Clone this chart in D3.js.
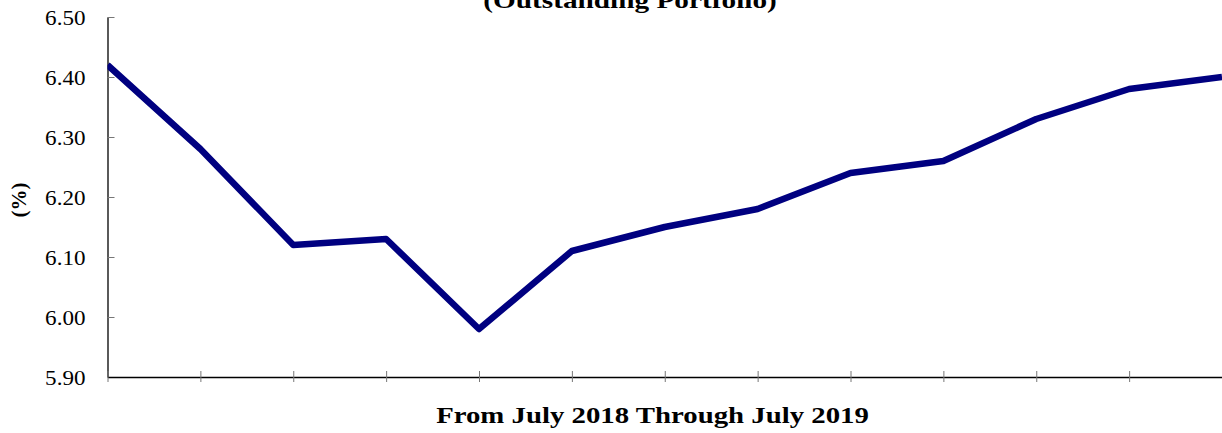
<!DOCTYPE html>
<html><head><meta charset="utf-8">
<script src="https://cdn.jsdelivr.net/npm/d3@7"></script>
<style>body{margin:0;background:#fff;}svg{display:block;}</style>
</head><body>
<svg id="c" width="1222" height="433"></svg>
<script>
const months = ["Jul 2018","Aug 2018","Sep 2018","Oct 2018","Nov 2018","Dec 2018","Jan 2019","Feb 2019","Mar 2019","Apr 2019","May 2019","Jun 2019","Jul 2019"];
const rates = [6.42, 6.28, 6.12, 6.13, 5.98, 6.11, 6.15, 6.18, 6.24, 6.26, 6.33, 6.38, 6.40];
const yTicks = [5.90, 6.00, 6.10, 6.20, 6.30, 6.40, 6.50];
const titleText = "(Outstanding Portfolio)";
const xTitle = "From July 2018 Through July 2019";
const yTitle = "(%)";

(function(){
const svg = d3.select("#c");
const mL = 107.5, mR = 1222, mT = 17, mB = 377;
const x = d3.scalePoint().domain(months).range([mL, mR]);
const y = d3.scaleLinear().domain([5.90, 6.50]).range([mB, mT]);
const serif = "'Liberation Serif', 'Times New Roman', serif";

svg.append("defs").append("clipPath").attr("id","plotclip")
  .append("rect").attr("x", mL).attr("y", 0).attr("width", mR - mL + 10).attr("height", mB + 5);

// y axis
const ya = svg.append("g").attr("transform", `translate(${mL},0)`)
  .call(d3.axisLeft(y).tickValues(yTicks).tickFormat(d3.format(".2f")).tickSizeInner(7).tickSizeOuter(0).tickPadding(0));
ya.select(".domain").attr("stroke","#000").attr("stroke-width",1.3);
ya.selectAll(".tick line").attr("x2", 7).attr("stroke","#777");
ya.selectAll(".tick text")
  .attr("x", null).attr("dy", null)
  .attr("transform","translate(-22,7) scale(1.1,1)")
  .attr("font-family",serif).attr("font-size",21).attr("fill","#000");

// x axis
const xa = svg.append("g").attr("transform", `translate(0,${mB})`)
  .call(d3.axisBottom(x).tickFormat("").tickSizeInner(5).tickSizeOuter(0));
xa.select(".domain").attr("stroke","#000").attr("stroke-width",1.3);
xa.selectAll(".tick line").attr("y1", -6).attr("stroke","#777");

// line
svg.append("path").datum(rates)
  .attr("clip-path","url(#plotclip)")
  .attr("fill","none").attr("stroke","#000080").attr("stroke-width",6.5)
  .attr("stroke-linejoin","round")
  .attr("d", d3.line().x((d,i)=>x(months[i])).y(d=>y(d)));

// titles
svg.append("text").attr("transform","translate(630,8) scale(1.22,1)").attr("text-anchor","middle")
  .attr("font-family",serif).attr("font-weight","bold").attr("font-size",24)
  .text(titleText);
svg.append("text").attr("transform","translate(652.5,423) scale(1.2,1)").attr("text-anchor","middle")
  .attr("font-family",serif).attr("font-weight","bold").attr("font-size",24)
  .text(xTitle);
svg.append("text").attr("transform","translate(26,200) rotate(-90)").attr("text-anchor","middle")
  .attr("font-family",serif).attr("font-weight","bold").attr("font-size",21)
  .text(yTitle);
})();
</script>
</body></html>
